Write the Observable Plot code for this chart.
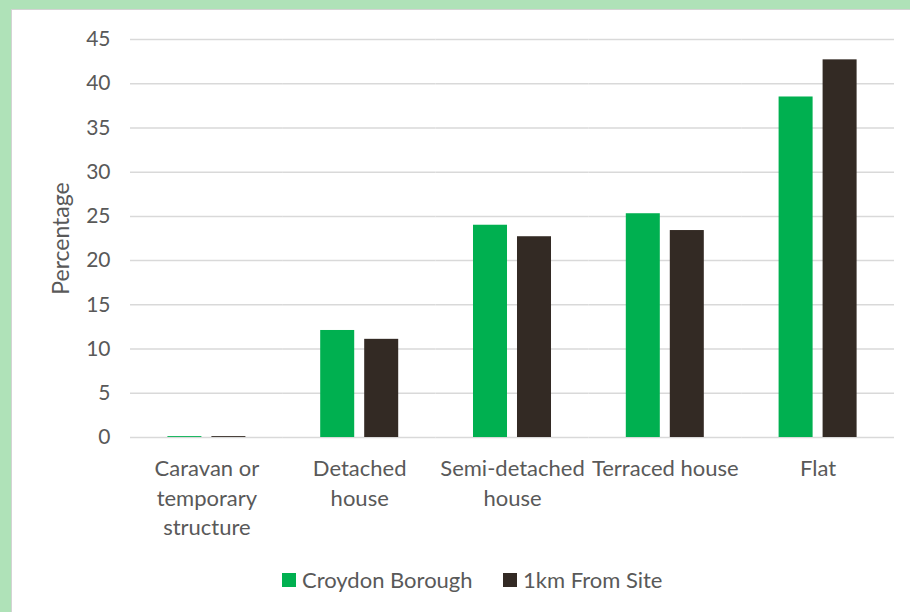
<!DOCTYPE html>
<html><head><meta charset="utf-8">
<script src="https://cdn.jsdelivr.net/npm/d3@7"></script>
<script src="https://cdn.jsdelivr.net/npm/@observablehq/plot@0.6"></script>
<style>
html,body{margin:0;padding:0;width:910px;height:612px;overflow:hidden;background:#afe2b8;}
#frame{position:absolute;left:11px;top:9px;width:940px;height:640px;background:#fff;border-left:1px solid #d3d3d3;border-top:1px solid #d3d3d3;}
#chart{position:absolute;left:0;top:0;}
.item{position:absolute;top:558px;height:24px;line-height:24px;font-family:Lato,sans-serif;font-size:22px;color:#595959;white-space:nowrap;display:flex;align-items:center;}
.sw{display:inline-block;width:14px;height:14px;margin-right:6px;}
</style>
</head><body>
<div id="frame"><div id="chart"></div><div id="legend"></div></div>
<script>
const categories = ["Caravan or temporary structure", "Detached house", "Semi-detached house", "Terraced house", "Flat"];
const tickLabels = ["Caravan or\ntemporary\nstructure", "Detached\nhouse", "Semi-detached\nhouse", "Terraced house", "Flat"];
const seriesNames = ["Croydon Borough", "1km From Site"];
const croydon = [0.1, 12.1, 24.0, 25.3, 38.5];
const site = [0.1, 11.1, 22.7, 23.4, 42.7];
const colors = ["#00b050", "#332a24"];
const yTicks = [0, 5, 10, 15, 20, 25, 30, 35, 40, 45];

const table = categories.flatMap((c, i) => [
  {category: c, series: seriesNames[0], value: croydon[i]},
  {category: c, series: seriesNames[1], value: site[i]}
]);

const chart = Plot.plot({
  width: 898, height: 545,
  marginLeft: 118, marginRight: 16, marginTop: 29, marginBottom: 118,
  style: {fontFamily: "Lato, sans-serif", fontSize: "21px", color: "#595959", background: "transparent"},
  fx: {domain: categories, padding: 0, round: false, label: null},
  x: {domain: seriesNames, paddingInner: 0.227, paddingOuter: 0.85, round: false, axis: null},
  y: {domain: [0, 45], label: "Percentage"},
  color: {domain: seriesNames, range: colors},
  marks: [
    Plot.gridY(yTicks, {stroke: "#d9d9d9", strokeOpacity: 1, strokeWidth: 1.5}),
    Plot.axisY(yTicks, {tickSize: 0, tickPadding: 20, fontSize: 21, label: null}),
    Plot.axisY([], {tickSize: 0, fontSize: 23, label: "Percentage", labelAnchor: "center", labelArrow: "none", labelOffset: 78}),
    Plot.axisFx({anchor: "bottom", tickSize: 0, tickPadding: 18, fontSize: 22, lineHeight: 1.34, tickFormat: d => tickLabels[categories.indexOf(d)], label: null}),
    Plot.barY(table, {fx: "category", x: "series", y: "value", fill: "series"})
  ]
});
document.getElementById("chart").appendChild(chart);

const lefts = [270, 491];
const legend = document.getElementById("legend");
seriesNames.forEach((s, i) => {
  const it = document.createElement("div");
  it.className = "item";
  it.style.left = lefts[i] + "px";
  it.innerHTML = `<span class="sw" style="background:${colors[i]}"></span><span>${s}</span>`;
  legend.appendChild(it);
});
</script>
</body></html>
